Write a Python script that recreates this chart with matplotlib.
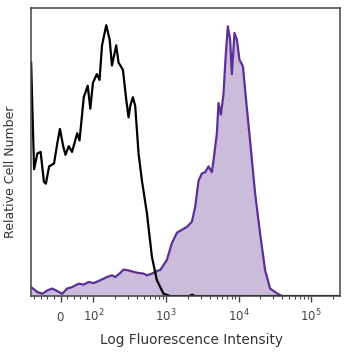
import numpy as np
import matplotlib
matplotlib.use("Agg")
from matplotlib import pyplot as plt
from matplotlib.ticker import FixedLocator

# isotype control (black outline), fluorescence intensity vs relative count
ctrl_x = [-90, -85, -81, -71, -61, -51, -45, -35, -20, -10, -2, 8, 15, 25, 35, 51, 58,
          71, 83, 91, 99, 112, 122, 132, 151, 168, 181, 207, 223, 256, 285, 306, 323,
          351, 378, 420, 468, 548, 642, 751, 928, 1150, 2100, 2300, 2500, 250000]
ctrl_y = [81, 60, 44, 49.5, 50, 39.7, 39, 45, 46, 53, 58, 52, 49, 52, 50, 56.5, 54,
          69, 73, 65, 74, 77, 75, 87, 94, 89, 80, 87, 81, 78.5, 68, 62, 66,
          69, 66, 49.5, 40, 28.7, 13.6, 5.5, 0.8, 0, 0, 0.5, 0, 0]

# stained sample (purple filled)
stain_x = [-90, -71, -55, -40, -25, -10, 5, 20, 35, 55, 71, 86, 101, 125, 154, 181,
           201, 235, 261, 306, 358, 420, 492, 548, 642, 713, 791, 835, 1030, 1210,
           1420, 1660, 1940, 2280, 2530, 2810, 3120, 3470, 3860, 4290, 4520, 5030,
           5300, 5710, 6200, 6680, 7120, 7660, 8090, 8790, 9480, 10300, 11500,
           12700, 14400, 16900, 19800, 23200, 27200, 33600, 39400, 250000]
stain_y = [3.1, 1.4, 0.8, 2, 2.6, 1.7, 0.8, 2.6, 3.1, 4.3, 4, 4.9, 4.5, 5.5, 6.6, 7.2,
           6.6, 8, 9.2, 8.9, 8.4, 8, 7.8, 7.2, 7.8, 8.4, 8.9, 9, 12.5, 18.4,
           22, 23, 24, 25.8, 31, 40, 42.5, 43, 45, 43, 47, 56.5,
           67, 63, 70, 84, 93.6, 89, 77, 91.3, 89, 82, 79.7,
           68, 54, 35.6, 21.7, 9, 2.6, 1, 0, 0]

tick_vals = [0, 100, 1000, 10000, 100000]
tick_labels = ["$0$", "$10^2$", "$10^3$", "$10^4$", "$10^5$"]

fig = plt.figure(figsize=(3.58, 3.58), dpi=100)
ax = fig.add_axes([0.087, 0.173, 0.863, 0.805])

ax.fill_between(stain_x, stain_y, 0, color="#cbbcdb", lw=0)
ax.plot(stain_x, stain_y, color="#5b2f96", lw=1.6)
ax.plot(ctrl_x, ctrl_y, color="black", lw=1.6)

ax.set_xscale("symlog", linthresh=100, linscale=0.405)
ax.set_xlim(-90, 250000)
ax.set_ylim(0, 100)

ax.xaxis.set_major_locator(FixedLocator(tick_vals))
ax.set_xticklabels(tick_labels)
minor = [-80, -60, -40, -20, 20, 40, 60, 80]
for d in [100, 1000, 10000, 100000]:
    minor += [d * k for k in range(2, 10) if d * k < 250000]
ax.xaxis.set_minor_locator(FixedLocator(minor))
ax.tick_params(axis="x", which="major", length=4, width=1, color="#444444",
               labelsize=8.5, labelcolor="#444444", pad=14)
ax.tick_params(axis="x", which="minor", length=2.5, width=0.8, color="#444444")
for lbl in ax.get_xticklabels():
    lbl.set_verticalalignment("baseline")
ax.set_yticks([])

for s in ax.spines.values():
    s.set_color("#444444")
    s.set_linewidth(1.1)

ax.set_xlabel("Log Fluorescence Intensity", fontsize=9.8, color="#333333")
ax.xaxis.set_label_coords(0.52, -0.128)
ax.set_ylabel("Relative Cell Number", fontsize=9, color="#333333")
ax.yaxis.set_label_coords(-0.045, 0.43)

fig.savefig("out.png", dpi=100)
